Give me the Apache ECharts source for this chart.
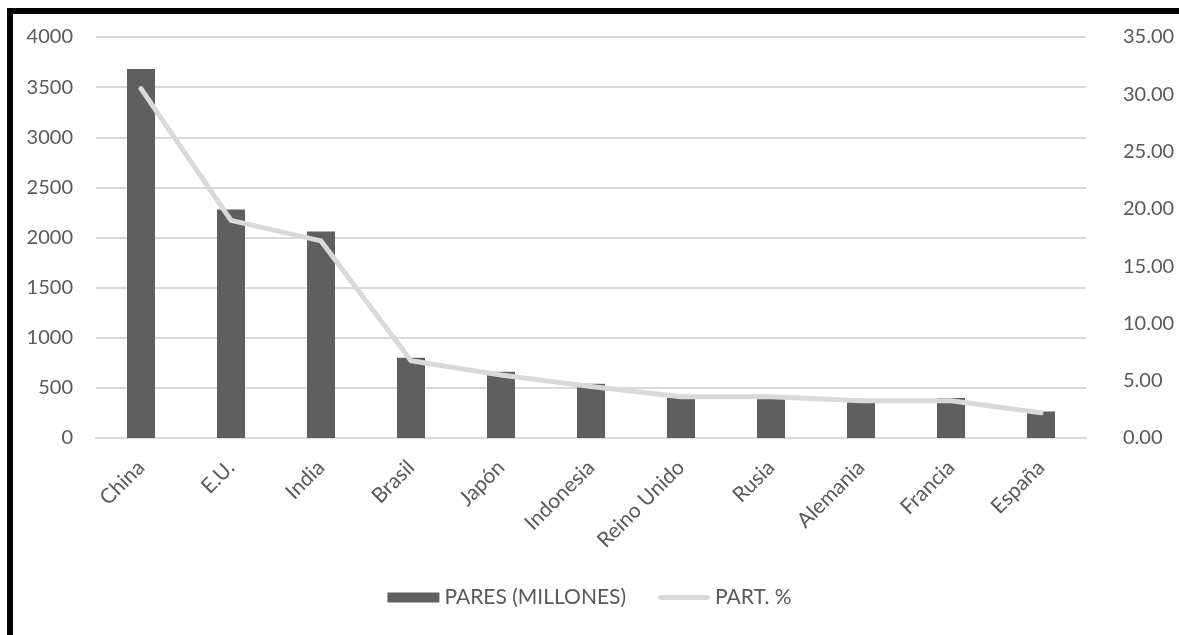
<!DOCTYPE html>
<html>
<head>
<meta charset="utf-8">
<script src="https://cdn.jsdelivr.net/npm/echarts@6/dist/echarts.min.js"></script>
<style>
  html, body { margin: 0; padding: 0; background: #ffffff; }
  #chart { width: 1179px; height: 635px; }
</style>
</head>
<body>
<div id="chart"></div>
<script>
// Producción de calzado por país
const categories = ['China', 'E.U.', 'India', 'Brasil', 'Japón', 'Indonesia', 'Reino Unido', 'Rusia', 'Alemania', 'Francia', 'España'];
const pares = [3680, 2280, 2060, 800, 660, 540, 400, 400, 370, 400, 265];
const participacion = [30.5, 19.0, 17.2, 6.75, 5.5, 4.5, 3.6, 3.6, 3.25, 3.25, 2.2];
const seriesNames = ['PARES (MILLONES)', 'PART. %'];

const textColor = '#595959';
const gridColor = '#d9d9d9';
const fontFamily = 'Lato, "Open Sans", sans-serif';

// rounded bar used as the legend key of the line series
const lineKey = 'path://M2.5,0 H49.5 A2.5,2.5 0 0 1 49.5,5 H2.5 A2.5,2.5 0 0 1 2.5,0 Z';

const chart = echarts.init(document.getElementById('chart'), null, { renderer: 'canvas' });

chart.setOption({
  animation: false,
  backgroundColor: '#ffffff',
  textStyle: { fontFamily: fontFamily, color: textColor },
  graphic: [{
    type: 'rect',
    left: 7, top: 8,
    shape: { width: 1300, height: 800 },
    style: { fill: null, stroke: '#000000', lineWidth: 6 },
    silent: true
  }],
  grid: { left: 96, right: 93, top: 37, bottom: 197, containLabel: false },
  legend: {
    bottom: 22,
    left: 'center',
    itemWidth: 52,
    itemHeight: 10,
    itemGap: 32,
    textStyle: { fontSize: 21, color: textColor, fontFamily: fontFamily },
    data: [
      { name: seriesNames[0], icon: 'rect' },
      { name: seriesNames[1], icon: lineKey, itemStyle: { color: gridColor } }
    ]
  },
  xAxis: {
    type: 'category',
    data: categories,
    axisLine: { show: true, lineStyle: { color: gridColor, width: 2 } },
    axisTick: { show: false },
    axisLabel: {
      rotate: 45,
      fontSize: 21,
      color: textColor,
      fontFamily: fontFamily,
      margin: 26,
      interval: 0
    }
  },
  yAxis: [{
    type: 'value',
    min: 0, max: 4000, interval: 500,
    axisLine: { show: false },
    axisTick: { show: false },
    splitLine: { lineStyle: { color: gridColor, width: 2 } },
    axisLabel: {
      fontSize: 20, color: textColor, fontFamily: fontFamily, margin: 23,
      formatter: v => String(v)
    }
  }, {
    type: 'value',
    min: 0, max: 35, interval: 5,
    position: 'right',
    axisLine: { show: false },
    axisTick: { show: false },
    splitLine: { show: false },
    axisLabel: {
      fontSize: 20, color: textColor, fontFamily: fontFamily, margin: 37,
      formatter: v => v.toFixed(2)
    }
  }],
  series: [{
    name: seriesNames[0],
    type: 'bar',
    data: pares,
    barWidth: 28,
    itemStyle: { color: '#5f5f5f' }
  }, {
    name: seriesNames[1],
    type: 'line',
    yAxisIndex: 1,
    data: participacion,
    symbol: 'none',
    smooth: false,
    lineStyle: { color: gridColor, width: 5, cap: 'round', join: 'round' },
    itemStyle: { color: gridColor }
  }]
});
</script>
</body>
</html>
